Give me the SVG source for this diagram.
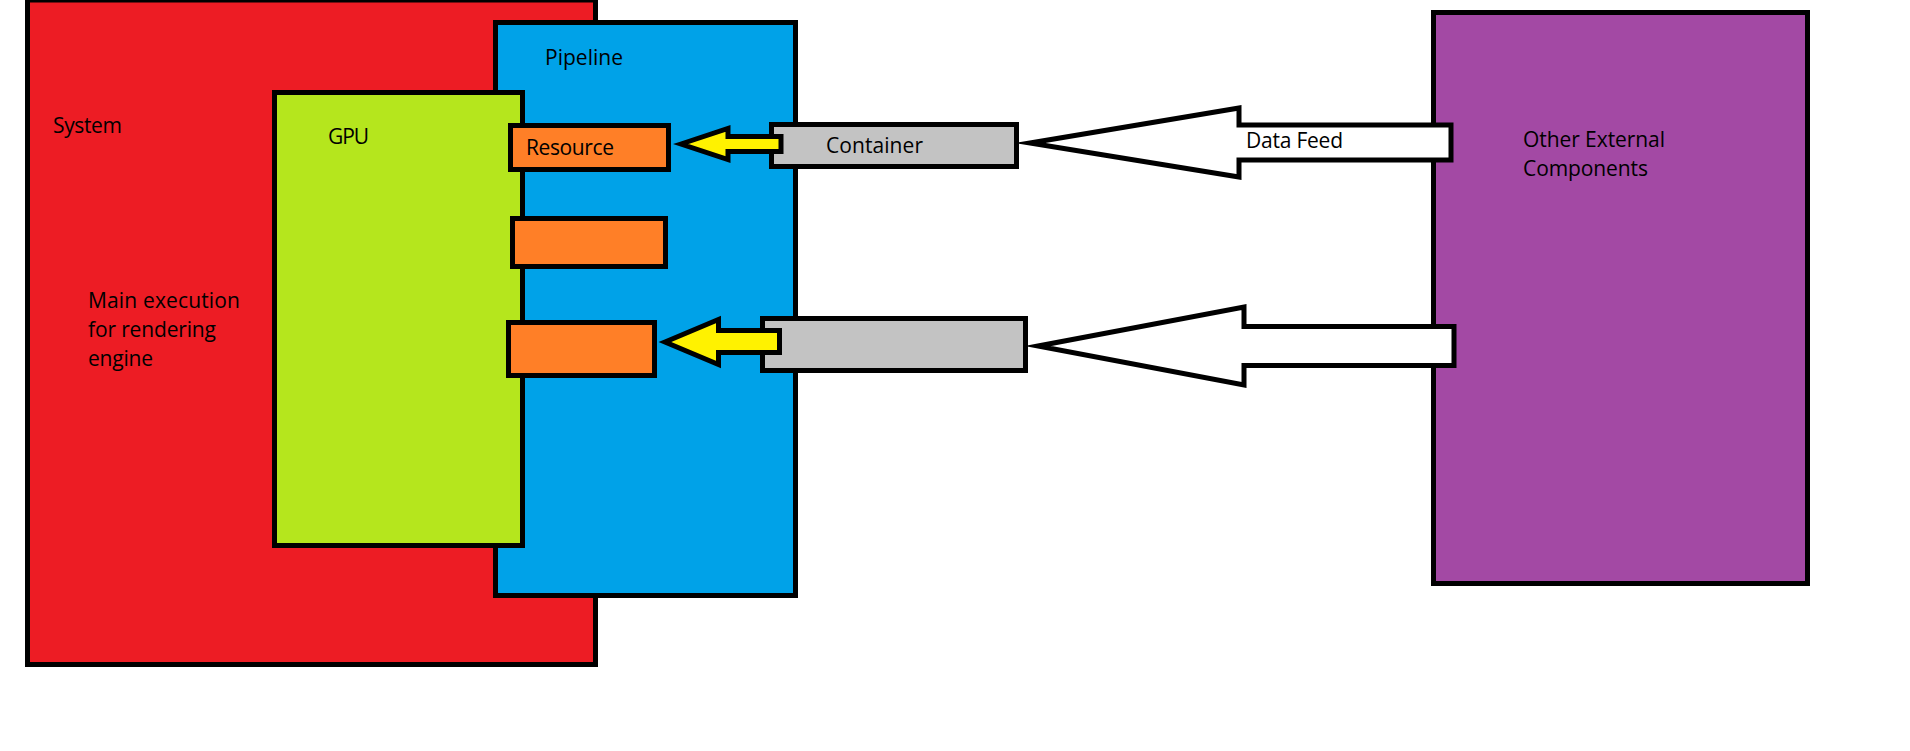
<svg xmlns="http://www.w3.org/2000/svg" width="1910" height="751" viewBox="0 0 1910 751">
  <style>
    .box { stroke: #000; stroke-width: 5; stroke-linejoin: miter; }
    .arrow { stroke: #000; stroke-width: 5; stroke-linejoin: miter; stroke-miterlimit: 10; }
    .label { font-family: "Open Sans", "Liberation Sans", sans-serif; font-size: 21px; fill: #000; }
  </style>
  <rect x="0" y="0" width="1910" height="751" fill="#fff"/>

  <g id="system">
    <rect class="box" x="27.5" y="0" width="568" height="664.5" fill="#ED1C24"/>
    <text class="label" x="53" y="133" textLength="69">System</text>
    <text class="label" x="88" y="308" textLength="152">Main execution</text>
    <text class="label" x="88" y="337" textLength="128">for rendering</text>
    <text class="label" x="88" y="366" textLength="65">engine</text>
  </g>

  <g id="pipeline">
    <rect class="box" x="495.5" y="22.5" width="300" height="573" fill="#00A2E8"/>
    <text class="label" x="545" y="65" textLength="78">Pipeline</text>
  </g>

  <g id="gpu">
    <rect class="box" x="274.5" y="92.5" width="248" height="453" fill="#B5E61D"/>
    <text class="label" x="328" y="144" textLength="41">GPU</text>
  </g>

  <g id="resource">
    <rect class="box" x="510.5" y="125.5" width="158" height="44" fill="#FF7F27"/>
    <text class="label" x="526" y="155" textLength="88">Resource</text>
  </g>

  <g id="resource-2">
    <rect class="box" x="512.5" y="218.5" width="153" height="48" fill="#FF7F27"/>
  </g>

  <g id="resource-3">
    <rect class="box" x="508.5" y="322.5" width="146" height="53" fill="#FF7F27"/>
  </g>

  <g id="container">
    <rect class="box" x="771.5" y="124.5" width="245" height="42" fill="#C3C3C3"/>
    <text class="label" x="826" y="153" textLength="97">Container</text>
  </g>

  <g id="container-2">
    <rect class="box" x="762.5" y="318.5" width="263" height="52" fill="#C3C3C3"/>
  </g>

  <g id="external">
    <rect class="box" x="1433.5" y="12.5" width="374" height="571" fill="#A349A4"/>
    <text class="label" x="1523" y="147" textLength="142">Other External</text>
    <text class="label" x="1523" y="176" textLength="125">Components</text>
  </g>

  <g id="connectors">
    <!-- container to resource -->
    <polygon class="arrow" fill="#FFF200" points="681,144 728,128.5 728,136.5 781,136.5 781,151.5 728,151.5 728,159.5"/>
    <polygon class="arrow" fill="#FFF200" points="665,342 718.5,319.5 718.5,330.5 779.5,330.5 779.5,352.5 718.5,352.5 718.5,364.5"/>
    <!-- external feeds into containers -->
    <polygon class="arrow" fill="#fff" points="1030,143 1239,108 1239,125 1451,125 1451,160 1239,160 1239,177"/>
    <text class="label" x="1246" y="148" textLength="97">Data Feed</text>
    <polygon class="arrow" fill="#fff" points="1038,346 1244,307 1244,326.5 1454,326.5 1454,365.5 1244,365.5 1244,385"/>
  </g>
</svg>
